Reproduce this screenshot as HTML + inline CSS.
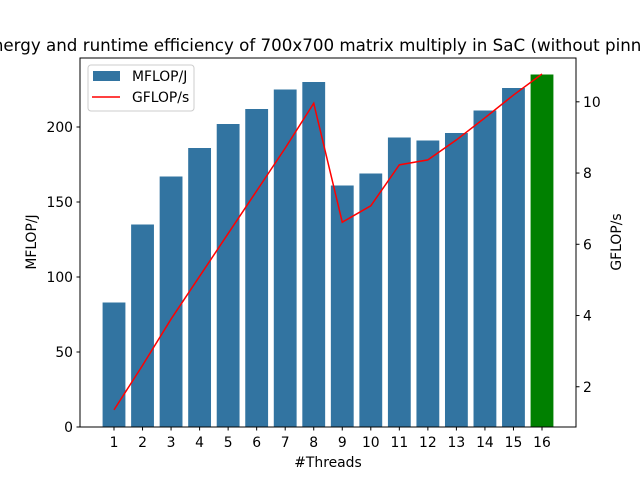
<!DOCTYPE html>
<html><head><meta charset="utf-8"><style>
body{margin:0;background:#fff;width:640px;height:480px;overflow:hidden}
text{font-family:"DejaVu Sans","Liberation Sans",sans-serif;fill:#000}
</style></head><body>
<svg id="chart" width="640" height="480" xmlns="http://www.w3.org/2000/svg"></svg>
<script>
const categories=[1,2,3,4,5,6,7,8,9,10,11,12,13,14,15,16];
const mflopj=[83,135,167,186,202,212,225,230,161,169,193,191,196,211,226,235];
const gflops=[1.35,2.6,3.9,5.1,6.3,7.5,8.7,9.96,6.62,7.08,8.23,8.37,8.93,9.55,10.19,10.78];
const leftTicks=[0,50,100,150,200];
const rightTicks=[2,4,6,8,10];
const L=80,R=576,T=58,B=427;
const xs=i=>114+(i)*(542-114)/15;
const yl=v=>B-v*(B-T)/246;
const yr=v=>B-(v-0.87)*(B-T)/(11.23-0.87);
const svg=document.getElementById('chart');
const NS='http://www.w3.org/2000/svg';
function mk(tag,attrs,parent){const e=document.createElementNS(NS,tag);for(const k in attrs)e.setAttribute(k,attrs[k]);(parent||svg).appendChild(e);return e;}
const bw=0.8*(542-114)/15;
categories.forEach((c,i)=>{
  const b=mk('rect',{x:xs(i)-bw/2,y:yl(mflopj[i]),width:bw,height:B-yl(mflopj[i]),fill:i===15?'#008000':'#3274a1'});
  
  
});
const pts=gflops.map((v,i)=>xs(i)+','+yr(v)).join(' ');
const ln=mk('polyline',{points:pts,fill:'none',stroke:'#ff0000','stroke-width':1.5});


const fr=mk('rect',{x:L,y:T,width:R-L,height:B-T,fill:'none',stroke:'#000','stroke-width':1});


leftTicks.forEach(v=>{
  const y=yl(v);
  mk('line',{x1:L-3.5,x2:L,y1:y,y2:y,stroke:'#000'});
  const t=mk('text',{x:L-7,y:y+5,'text-anchor':'end','font-size':13.9});t.textContent=v;
  
  
});
rightTicks.forEach(v=>{
  const y=yr(v);
  mk('line',{x1:R,x2:R+3.5,y1:y,y2:y,stroke:'#000'});
  const t=mk('text',{x:R+7,y:y+5,'text-anchor':'start','font-size':13.9});t.textContent=v;
  
  
});
categories.forEach((c,i)=>{
  const x=xs(i);
  mk('line',{x1:x,x2:x,y1:B,y2:B+3.5,stroke:'#000'});
  const t=mk('text',{x:x,y:B+20,'text-anchor':'middle','font-size':13.9});t.textContent=c;
  
  
});
</script>
<svg width="640" height="480" style="position:absolute;left:0;top:0" xmlns="http://www.w3.org/2000/svg">
<text x="328" y="51" text-anchor="middle" font-size="16.7">Energy and runtime efficiency of 700x700 matrix multiply in SaC (without pinning)</text>
<text x="328" y="467" text-anchor="middle" font-size="13.9">#Threads</text>
<text transform="translate(36,242) rotate(-90)" text-anchor="middle" font-size="13.9">MFLOP/J</text>
<text transform="translate(621,242) rotate(-90)" text-anchor="middle" font-size="13.9">GFLOP/s</text>
<g>
<rect x="88" y="65" width="106" height="46" rx="3" fill="#fff" fill-opacity="0.8" stroke="#ccc"/>
<rect x="93" y="71" width="27" height="10" fill="#3274a1"/>
<text x="132" y="81" font-size="13.9">MFLOP/J</text>
<line x1="92" x2="120" y1="97" y2="97" stroke="#ff0000" stroke-width="1.5"/>
<text x="132" y="102" font-size="13.9">GFLOP/s</text>
</g>
</svg>
</body></html>
